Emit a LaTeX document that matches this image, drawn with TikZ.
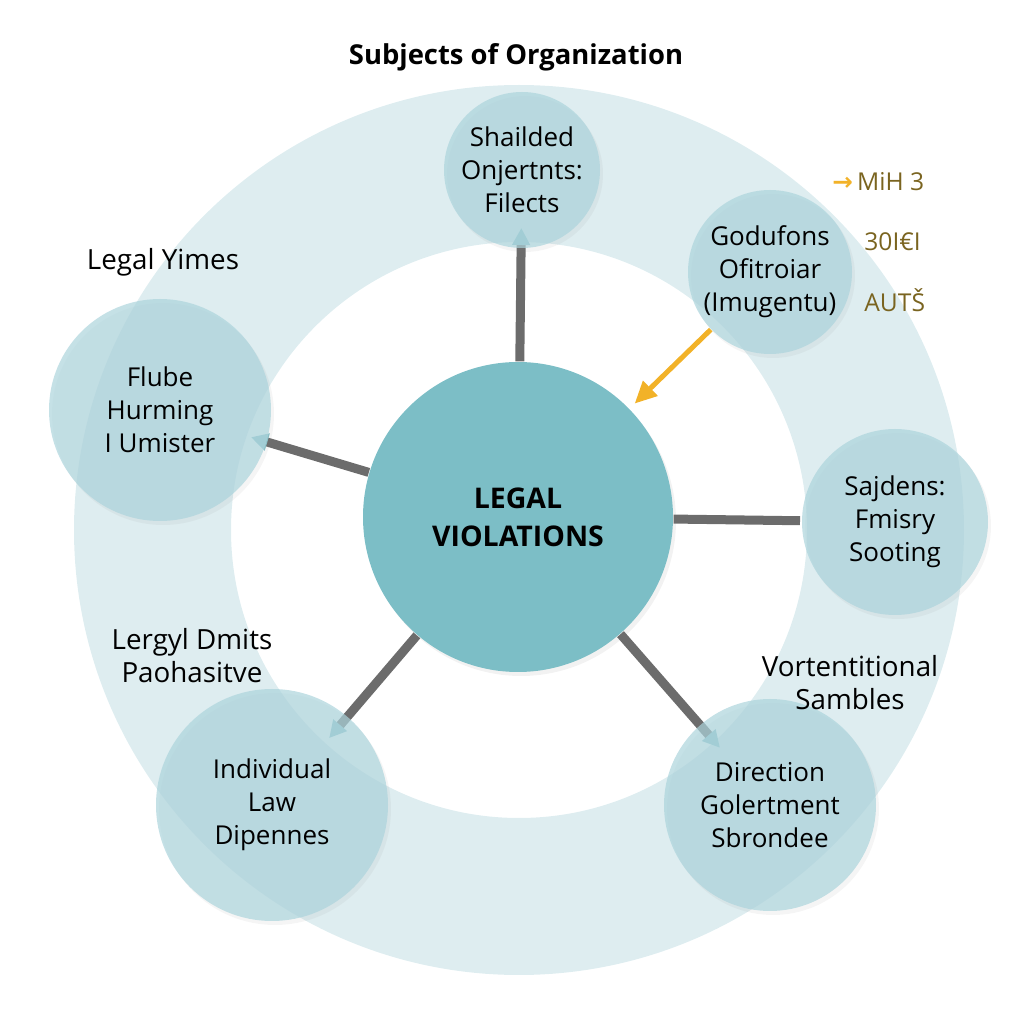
\documentclass[tikz,border=0pt]{standalone}
\usepackage{fontspec}
\setmainfont{Open Sans}
\newfontfamily\glyphfont{DejaVu Sans}
\usepackage{xcolor}
\usetikzlibrary{arrows.meta, shadows, positioning}

\definecolor{ringblue}{RGB}{222,237,240}
\definecolor{satblue}{RGB}{172,212,220}
\definecolor{hubteal}{RGB}{124,190,198}
\definecolor{linkgray}{RGB}{108,108,108}
\definecolor{tipteal}{RGB}{140,197,205}
\definecolor{arrowgold}{RGB}{242,178,40}
\definecolor{textgold}{RGB}{122,100,32}

\newcommand\satfont{\fontsize{7.4}{9.4}\selectfont}
\newcommand\lblfont{\fontsize{7.9}{9.4}\selectfont}

\begin{document}
\begin{tikzpicture}[>=latex,
    sat/.style={circle, fill=satblue, fill opacity=0.7, text opacity=1,
        align=center, inner sep=0pt, font=\satfont, minimum size=#1,
        drop shadow={opacity=0.08, shadow xshift=0.03, shadow yshift=-0.04}},
    hub/.style={circle, fill=hubteal, align=center, inner sep=0pt,
        minimum size=3.1cm, font=\fontsize{8.1}{10.8}\selectfont\bfseries,
        drop shadow={opacity=0.1, shadow xshift=0.03, shadow yshift=-0.04}},
    lbl/.style={align=center, font=\lblfont},
    link/.style={draw=linkgray, line width=0.09cm},
    tiplink/.style={link, -{Triangle[length=0.17cm, width=0.17cm, color=tipteal]}},
    gold/.style={text=textgold, anchor=west, font=\fontsize{7}{9}\selectfont}]
    \useasboundingbox (0,0) rectangle (10.24,10.24);

    % Vòng nền
    \fill[ringblue, even odd rule] (5.19,4.94) circle (4.45) (5.19,4.94) circle (2.88);

    % Tiêu đề
    \node[font=\fontsize{7.8}{10}\selectfont\bfseries] (title) at (5.16,9.67) {Subjects of Organization};

    % Nút trung tâm và các nút vệ tinh
    \node[hub] (hub) at (5.18,5.07) {LEGAL\\VIOLATIONS};
    \coordinate (cTop) at (5.22,8.54);
    \coordinate (cTR) at (7.70,7.52);
    \coordinate (cLeft) at (1.60,6.14);
    \coordinate (cRight) at (8.95,5.02);
    \coordinate (cBL) at (2.72,2.19);
    \coordinate (cBR) at (7.70,2.19);

    % Các đường nối
    \draw[tiplink, shorten >=0.58cm] (hub) -- (cTop);
    \draw[tiplink, shorten >=0.95cm] (hub) -- (cLeft);
    \draw[link, shorten >=0.95cm] (hub) -- (cRight);
    \draw[tiplink, shorten >=0.88cm] (hub) -- (cBL);
    \draw[tiplink, shorten >=0.76cm] (hub) -- (cBR);

    \node[sat=1.56cm] (top) at (cTop) {Shailded\\Onjertnts:\\Filects};
    \node[sat=1.64cm] (tr) at (cTR) {Godufons\\Ofitroiar\\(Imugentu)};
    \node[sat=2.22cm] (left) at (cLeft) {Flube\\Hurming\\I Umister};
    \node[sat=1.86cm] (right) at (cRight) {Sajdens:\\Fmisry\\Sooting};
    \node[sat=2.32cm] (bl) at (cBL) {Individual\\Law\\Dipennes};
    \node[sat=2.12cm] (br) at (cBR) {Direction\\Golertment\\Sbrondee};

    % Mũi tên vàng
    \draw[arrowgold, line width=0.05cm, -{Triangle[length=0.22cm, width=0.2cm]}, shorten >=0.07cm] (tr) -- (hub);

    % Nhãn bên ngoài
    \node[lbl] (yimes) at (1.63,7.62) {Legal Yimes};
    \node[lbl] (dmits) at (1.92,3.68) {Lergyl Dmits\\Paohasitve};
    \node[lbl] (vort) at (8.50,3.41) {Vortentitional\\Sambles};

    % Chú thích vàng
    \node[gold] (mih) at (8.20,8.42) {{\color{arrowgold}\glyphfont\bfseries →}\,MiH 3};
    \node[gold] (num) at (8.52,7.82) {30I€I};
    \node[gold] (auts) at (8.52,7.24) {AUT\v{S}};
\end{tikzpicture}
\end{document}
